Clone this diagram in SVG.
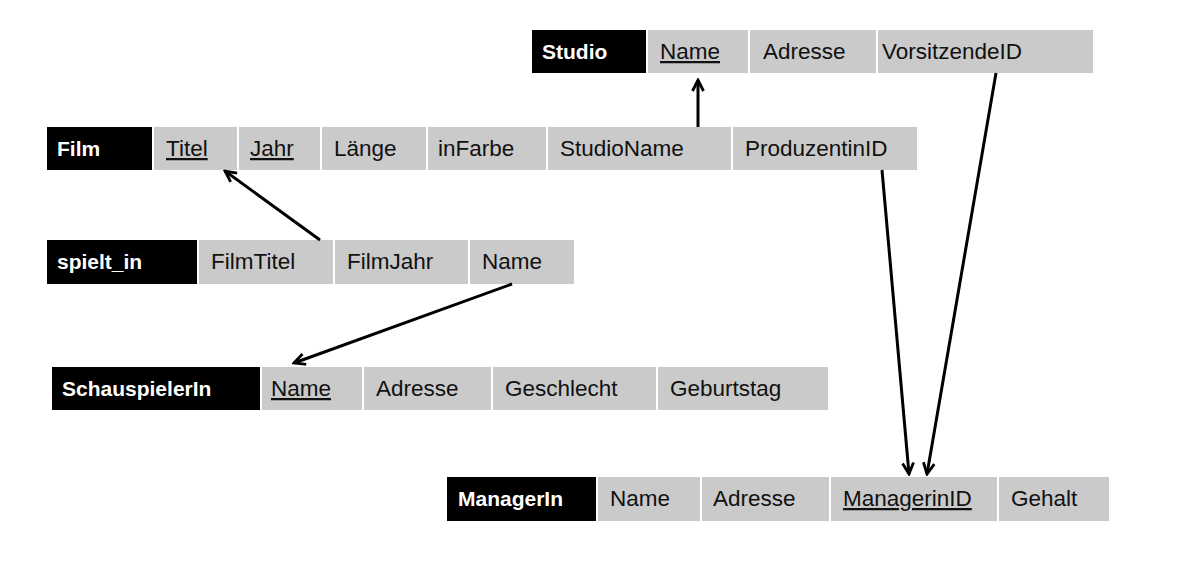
<svg xmlns="http://www.w3.org/2000/svg" width="1185" height="571" viewBox="0 0 1185 571">
<style>
.h{fill:#000}
.c{fill:#cacaca}
text{font-family:"Liberation Sans",Arial,sans-serif;font-size:22.5px;fill:#111}
.t{fill:#fff;font-weight:bold;font-size:21px}
.u{text-decoration:underline}
.a{stroke:#000;stroke-width:3;fill:none}
</style>
<defs>
<marker id="ar" viewBox="0 0 14 14" refX="12" refY="7" markerWidth="14" markerHeight="14" markerUnits="userSpaceOnUse" orient="auto">
<path d="M1,1.5 L12,7 L1,12.5" fill="none" stroke="#000" stroke-width="2.8"/>
</marker>
</defs>
<rect width="1185" height="571" fill="#fff"/>
<g id="studio">
<rect class="h" x="532" y="30" width="114" height="43"/>
<rect class="c" x="648" y="30" width="100" height="43"/>
<rect class="c" x="750" y="30" width="126" height="43"/>
<rect class="c" x="878" y="30" width="215" height="43"/>
<text class="t" x="542" y="59">Studio</text>
<text class="u" x="660" y="59">Name</text>
<text x="763" y="59">Adresse</text>
<text x="882" y="59">VorsitzendeID</text>
</g>
<g id="film">
<rect class="h" x="47" y="127" width="105" height="43"/>
<rect class="c" x="154" y="127" width="83" height="43"/>
<rect class="c" x="239" y="127" width="81" height="43"/>
<rect class="c" x="322" y="127" width="104" height="43"/>
<rect class="c" x="428" y="127" width="118" height="43"/>
<rect class="c" x="548" y="127" width="183" height="43"/>
<rect class="c" x="733" y="127" width="184" height="43"/>
<text class="t" x="57" y="156">Film</text>
<text class="u" x="166" y="156">Titel</text>
<text class="u" x="250" y="156">Jahr</text>
<text x="334" y="156">Länge</text>
<text x="438" y="156">inFarbe</text>
<text x="560" y="156">StudioName</text>
<text x="745" y="156">ProduzentinID</text>
</g>
<g id="spielt_in">
<rect class="h" x="47" y="240" width="150" height="44"/>
<rect class="c" x="199" y="240" width="134" height="44"/>
<rect class="c" x="335" y="240" width="133" height="44"/>
<rect class="c" x="470" y="240" width="104" height="44"/>
<text class="t" x="57" y="269">spielt_in</text>
<text x="211" y="269">FilmTitel</text>
<text x="347" y="269">FilmJahr</text>
<text x="482" y="269">Name</text>
</g>
<g id="schauspielerin">
<rect class="h" x="52" y="367" width="208" height="43"/>
<rect class="c" x="262" y="367" width="100" height="43"/>
<rect class="c" x="364" y="367" width="127" height="43"/>
<rect class="c" x="493" y="367" width="163" height="43"/>
<rect class="c" x="658" y="367" width="170" height="43"/>
<text class="t" x="62" y="396">SchauspielerIn</text>
<text class="u" x="271" y="396">Name</text>
<text x="376" y="396">Adresse</text>
<text x="505" y="396">Geschlecht</text>
<text x="670" y="396">Geburtstag</text>
</g>
<g id="managerin">
<rect class="h" x="447" y="477" width="149" height="44"/>
<rect class="c" x="598" y="477" width="102" height="44"/>
<rect class="c" x="702" y="477" width="127" height="44"/>
<rect class="c" x="831" y="477" width="166" height="44"/>
<rect class="c" x="999" y="477" width="110" height="44"/>
<text class="t" x="458" y="506">ManagerIn</text>
<text x="610" y="506">Name</text>
<text x="713" y="506">Adresse</text>
<text class="u" x="843" y="506">ManagerinID</text>
<text x="1011" y="506">Gehalt</text>
</g>
<g id="connectors">
<line class="a" x1="698" y1="127" x2="698" y2="80" marker-end="url(#ar)"/>
<line class="a" x1="320" y1="240" x2="225" y2="171" marker-end="url(#ar)"/>
<line class="a" x1="512" y1="284" x2="294" y2="363" marker-end="url(#ar)"/>
<line class="a" x1="882" y1="170" x2="909" y2="474" marker-end="url(#ar)"/>
<line class="a" x1="996" y1="73" x2="927" y2="474" marker-end="url(#ar)"/>
</g>
</svg>
